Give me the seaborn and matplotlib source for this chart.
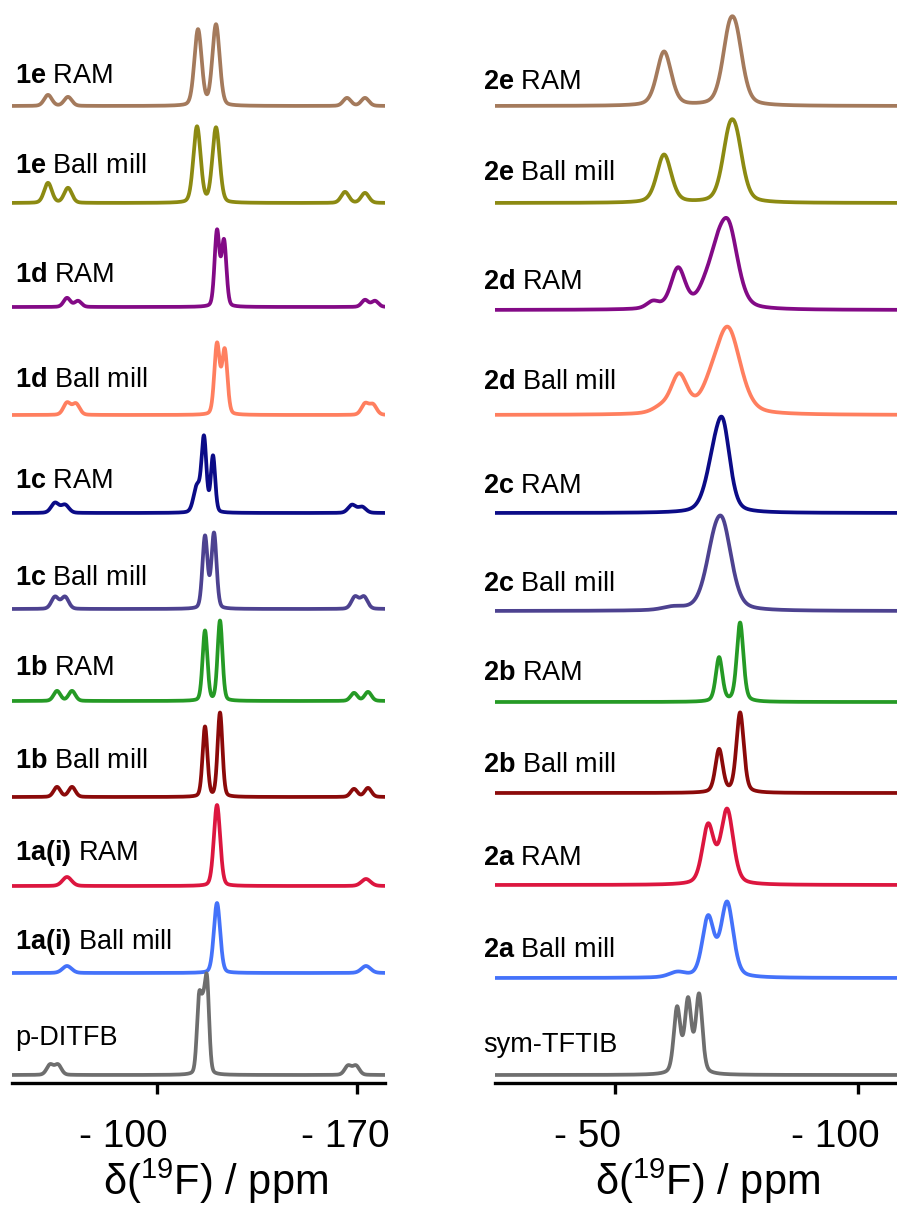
import numpy as np
import matplotlib
matplotlib.use("Agg")
import matplotlib.pyplot as plt
import seaborn as sns
from matplotlib.transforms import ScaledTranslation, blended_transform_factory

sns.set_style("white")
plt.rcParams['font.family'] = ['Liberation Sans', 'DejaVu Sans']
plt.rcParams['mathtext.fontset'] = 'custom'
plt.rcParams['mathtext.rm'] = 'Liberation Sans'
plt.rcParams['mathtext.bf'] = 'Liberation Sans:bold'
plt.rcParams['mathtext.it'] = 'Liberation Sans:italic'
plt.rcParams['text.color'] = 'black'

# ---------------- data ----------------
left_compound = ["1e", "1e", "1d", "1d", "1c", "1c", "1b", "1b", "1a(i)", "1a(i)", ""]
left_method = ["RAM", "Ball mill", "RAM", "Ball mill", "RAM", "Ball mill",
               "RAM", "Ball mill", "RAM", "Ball mill", "p-DITFB"]
right_compound = ["2e", "2e", "2d", "2d", "2c", "2c", "2b", "2b", "2a", "2a", ""]
right_method = ["RAM", "Ball mill", "RAM", "Ball mill", "RAM", "Ball mill",
                "RAM", "Ball mill", "RAM", "Ball mill", "sym-TFTIB"]

# peak centres (ppm), heights (arb.), widths (FWHM, ppm)
left_centers = [
    [-114.35, -120.65, -61.85, -68.85, -166.5, -172.8],
    [-114.0, -120.65, -61.85, -68.85, -165.8, -172.8],
    [-121.0, -123.45, -68.5, -72.35, -172.8, -176.3],
    [-121.0, -123.7, -68.5, -71.65, -172.8, -175.6],
    [-116.45, -119.6, -114.0, -64.3, -67.8, -168.25, -171.75],
    [-116.8, -119.95, -64.3, -67.8, -169.3, -172.45],
    [-116.8, -122.05, -65.0, -70.25, -168.95, -173.85],
    [-116.8, -122.05, -65.0, -70.25, -168.95, -173.85],
    [-121.0, -68.5, -173.15],
    [-121.0, -68.5, -173.15],
    [-114.7, -116.1, -117.5, -62.55, -65.35, -166.85, -169.65],
]
left_heights = [
    [76, 81, 11, 9, 8, 8],
    [76, 75, 20, 15, 11, 10],
    [75, 65, 9, 6, 7, 6],
    [70, 64, 12, 11, 11, 10],
    [73, 56, 26, 10, 8, 8, 6],
    [72, 75, 12, 12, 12, 12],
    [70, 80, 10, 10, 8, 9],
    [70, 84, 10, 10, 8, 9],
    [81, 9, 7],
    [70, 7, 7],
    [70, 50, 88, 10, 10, 9, 9],
]
left_widths = [
    [3.0, 3.0, 3.2, 3.2, 3.2, 3.2],
    [3.0, 3.0, 3.2, 3.2, 3.2, 3.2],
    [2.0, 2.0, 2.8, 2.8, 2.8, 2.8],
    [2.2, 2.2, 3.0, 3.0, 3.0, 3.0],
    [2.0, 1.8, 2.8, 3.2, 3.2, 3.2, 3.2],
    [2.1, 2.1, 3.0, 3.0, 3.0, 3.0],
    [2.0, 2.0, 2.8, 2.8, 2.8, 2.8],
    [2.0, 2.0, 2.8, 2.8, 2.8, 2.8],
    [2.6, 3.8, 3.8],
    [2.6, 3.8, 3.8],
    [1.8, 1.8, 1.8, 2.8, 2.8, 2.8, 2.8],
]

right_centers = [
    [-60.08, -73.4, -75.0],
    [-60.08, -73.4, -75.0],
    [-57.8, -62.96, -68.5, -71.0, -73.46],
    [-59.3, -63.17, -69.5, -73.25],
    [-70.16, -72.22],
    [-61.9, -70.16, -72.22],
    [-71.4, -75.72],
    [-71.4, -75.72],
    [-69.14, -73.05],
    [-62.8, -69.14, -73.05],
    [-62.76, -65.02, -67.28],
]
right_heights = [
    [54, 55, 50],
    [48, 52, 46],
    [7, 40, 12, 40, 70],
    [5, 38, 15, 84],
    [40, 75],
    [3, 40, 70],
    [44, 79],
    [43, 80],
    [58, 74],
    [5, 59, 74],
    [65, 72, 78],
]
right_widths = [
    [3.5, 3.5, 3.5],
    [3.5, 3.5, 3.5],
    [3.0, 3.5, 4.0, 4.5, 4.5],
    [4.0, 4.0, 5.0, 6.0],
    [4.0, 3.5],
    [5.0, 4.5, 4.5],
    [1.6, 1.6],
    [1.8, 1.8],
    [2.8, 3.0],
    [4.0, 2.8, 3.0],
    [1.6, 1.6, 1.6],
]

colors = ["#A47A5C", "#8C8A12", "#830A86", "#FF7F5F", "#0B0B87", "#4D4290",
          "#259A25", "#8B0A0A", "#DC163F", "#4472FA", "#6E6E6E"]

# ---------------- layout (pixels) ----------------
W, H = 897, 1209
AX_BOTTOM = 1083
left_base_px = [106, 203, 307, 415, 513, 609, 701, 797, 886, 973, 1075]
right_base_px = [106, 203, 310, 415, 513, 611, 702, 793, 885, 978, 1075]
left_text_px = [83, 173, 282, 387, 488, 585, 675, 768, 860, 949, 1045]
right_text_px = [89, 180, 289, 389, 493, 591, 680, 772, 865, 957, 1052]


def spectrum(x, centers, heights, widths, eta):
    y = np.zeros_like(x)
    for c, h, w in zip(centers, heights, widths):
        g = np.exp(-4 * np.log(2) * ((x - c) / w) ** 2)
        lo = 1.0 / (1.0 + 4 * ((x - c) / w) ** 2)
        y += h * (eta * lo + (1 - eta) * g)
    return y


fig = plt.figure(figsize=(W / 100, H / 100), dpi=100)
axL = fig.add_axes([12 / W, (H - AX_BOTTOM) / H, 373 / W, AX_BOTTOM / H])
axR = fig.add_axes([495 / W, (H - AX_BOTTOM) / H, 402 / W, AX_BOTTOM / H])

panels = [
    (axL, (-49.25, -179.8), left_centers, left_heights, left_widths, 0.2,
     left_base_px, left_text_px, left_compound, left_method, 0.008,
     [-100, -170], ["- 100", "- 170"], [-34, -12], 0.547),
    (axR, (-25.3, -108.0), right_centers, right_heights, right_widths, 0.35,
     right_base_px, right_text_px, right_compound, right_method, -0.030,
     [-50, -100], ["- 50", "- 100"], [-28, -23], 0.53),
]

for (ax, xl, cen, hts, wds, eta, base_px, text_px, comp, meth, tx,
     ticks, ticklabels, tick_dx, xlab_pos) in panels:
    x = np.linspace(xl[0], xl[1], 4000)
    for i in range(len(cen)):
        base = AX_BOTTOM - base_px[i]
        y = spectrum(x, cen[i], hts[i], wds[i], eta) + base
        sns.lineplot(x=x, y=y, ax=ax, color=colors[i], lw=2.7,
                     estimator=None, sort=False, solid_joinstyle='round')
        lab = (r"$\bf{" + comp[i] + r"}$ " + meth[i]) if comp[i] else meth[i]
        ax.text(tx, AX_BOTTOM - text_px[i], lab, fontsize=19.5, va='baseline',
                ha='left', color='black', clip_on=False,
                transform=blended_transform_factory(ax.transAxes, ax.transData))
    ax.set_xlim(*xl)
    ax.set_ylim(0, AX_BOTTOM)
    ax.set_yticks([])
    for s in ["left", "top", "right"]:
        ax.spines[s].set_visible(False)
    ax.spines["bottom"].set_linewidth(2.4)
    ax.spines["bottom"].set_color("black")
    ax.set_xticks(ticks)
    ax.set_xticklabels(ticklabels, fontsize=28)
    ax.tick_params(axis='x', direction='out', length=8, width=2.4,
                   color='black', labelcolor='black', pad=18, bottom=True)
    for lbl, dx in zip(ax.get_xticklabels(), tick_dx):
        lbl.set_transform(lbl.get_transform() + ScaledTranslation(dx / 100, 0, fig.dpi_scale_trans))
    ax.set_xlabel(r"δ($^{19}$F) / ppm", fontsize=30, color='black')
    ax.xaxis.set_label_coords(xlab_pos, -0.068)
    ax.set_ylabel("")
    ax.patch.set_alpha(0)

fig.savefig("out.png", dpi=100)
